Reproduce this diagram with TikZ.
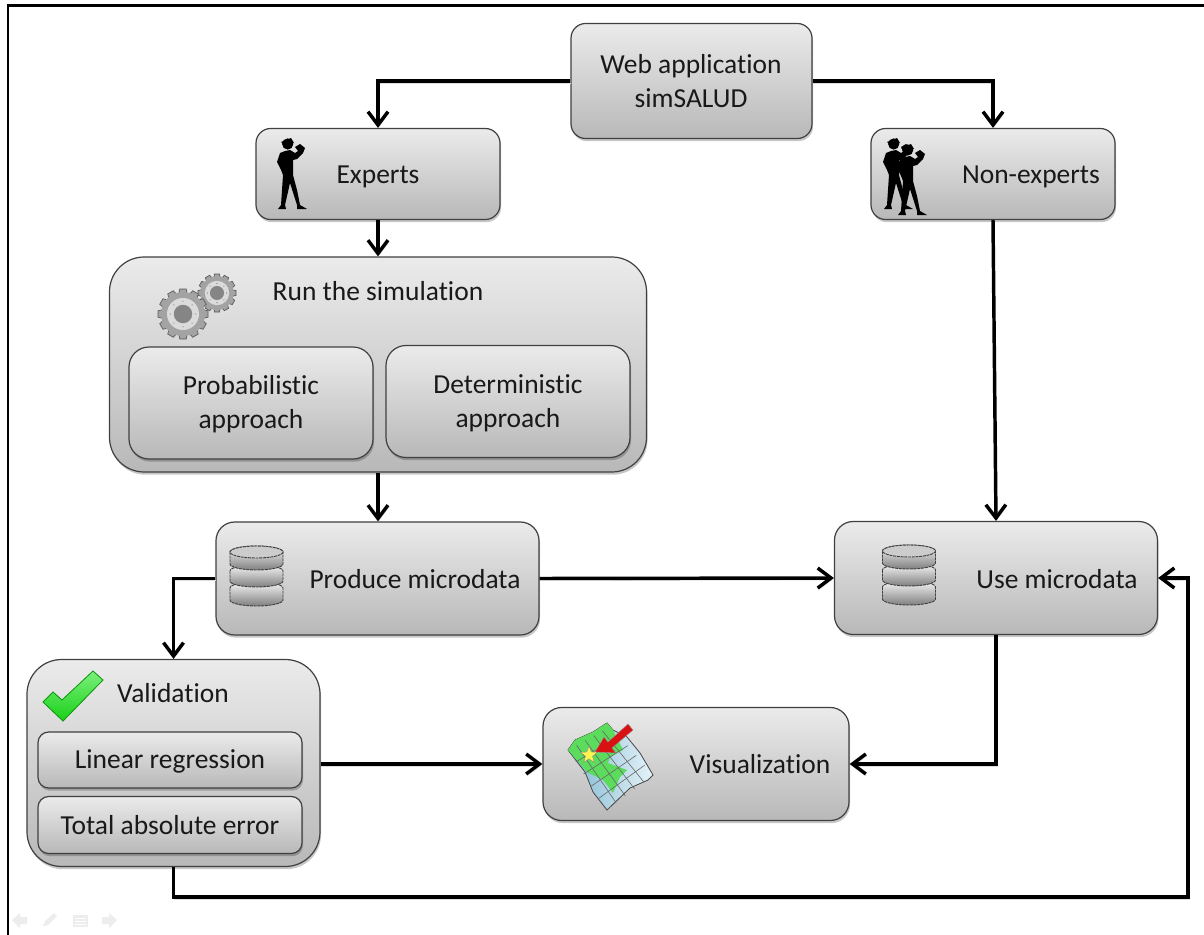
\documentclass[tikz,border=0pt]{standalone}
\usepackage{fontspec}
\setmainfont[RawFeature={-liga}]{Carlito}
\usetikzlibrary{shadows,arrows.meta,calc}
\definecolor{boxtop}{HTML}{EBEBEB}
\definecolor{boxbot}{HTML}{B8B8B8}
\definecolor{chk}{HTML}{18D018}
\definecolor{chklight}{HTML}{7CF07C}
\definecolor{chkdark}{HTML}{0C9A0C}
\definecolor{mapgreen}{HTML}{5CDC5C}
\definecolor{mapblue}{HTML}{7FB8D2}
\definecolor{mappale}{HTML}{E6F3F8}
\definecolor{maparrow}{HTML}{D81212}
\definecolor{navgrey}{HTML}{EDEDED}
\tikzset{
  flowbox/.style={draw=black!75,line width=0.9pt,top color=boxtop,bottom color=boxbot,inner sep=0pt,
    drop shadow={shadow xshift=0.8pt,shadow yshift=-2pt,fill=black,opacity=0.22}},
  lbl/.style={font=\fontsize{20.6pt}{25.5pt}\selectfont,align=center,text=black!90,inner sep=0pt},
  shade line/.style={preaction={draw=black!13,transform canvas={shift={(0.6pt,-1.6pt)}}}},
  flow/.style={line width=2.6pt,draw=black,line join=miter,shade line,-{Straight Barb[length=10pt,width=15pt,line width=2.6pt]}},
  frameline/.style={line width=2.2pt,draw=black},
  dbdisk/.style={draw=black!75,dash pattern=on 2.2pt off 0.6pt,line width=0.7pt},
}
\newcommand{\person}[2]{% x, y of the feet
  \begin{scope}[shift={(#1,#2)}]
   \fill[black] (-3.3,-65) circle (5.6);
   \fill[black] (-10,-67) -- (0,-71) -- (3,-66) -- (-8,-65) -- cycle;
   \fill[black] (-1,-59) -- (4,-56) -- (7,-58) -- (4,-62) -- (9,-65) -- (14,-61) -- (12,-56) -- (6,-50) -- (2,-49)
     -- (2,-34) -- (6,-19) -- (9,-4) -- (16,0) -- (6,0) -- (6,-4) -- (-1,-26) -- (-6,-4) -- (-5,0) -- (-13,0) -- (-10,-4)
     -- (-8,-34) -- (-10,-39) -- (-14,-47) -- (-11,-56) -- (-6,-58) -- cycle;
  \end{scope}}
\newcommand{\gearicon}[3]{% x, y, radius
  \begin{scope}[shift={(#1,#2)}]
   \foreach \a in {0,30,...,330}{\filldraw[fill=black!36,draw=black!65,line width=0.5pt,rotate=\a] (-0.17*#3,0.8*#3) -- (-0.13*#3,1*#3) -- (0.13*#3,1*#3) -- (0.17*#3,0.8*#3) -- cycle;}
   \filldraw[fill=black!36,draw=none] (0,0) circle (0.88*#3);
   \fill[black!14] (0,0) circle (0.64*#3);
   \foreach \a in {0,45,...,315}{\fill[black!45,rotate=\a] (0.51*#3,0) circle (0.7);}
   \fill[black!48] (0,0) circle (0.37*#3);
  \end{scope}}
\newcommand{\dbicon}[2]{% centre x, y of the centre of the top ellipse
  \begin{scope}[shift={(#1,#2)}]
   \foreach \o/\h in {36/12,19/10,0/12}{
     \path[dbdisk,top color=black!4,bottom color=black!50]
       (-26.5,\o) -- (-26.5,\o+\h) arc[start angle=180,end angle=0,x radius=26.5,y radius=6] -- (26.5,\o) arc[start angle=0,end angle=-180,x radius=26.5,y radius=6] -- cycle;
   }
   \path[dbdisk,fill=black!20] (0,0) ellipse[x radius=26.5,y radius=6];
  \end{scope}}
\begin{document}
\begin{tikzpicture}[x=0.75pt,y=-0.75pt]
\useasboundingbox (0,0) rectangle (1204,935);
\fill[white] (0,0) rectangle (1204,935);
% outer frame
\coordinate (fa) at (8,935);
\coordinate (fb) at (8,5.5);
\coordinate (fc) at (1204,5.5);
\draw[frameline] (fa) -- (fb) -- (fc);
% boxes
\node[flowbox,rounded corners=11pt,minimum width=180.75pt,minimum height=86.25pt] (web) at (691.5,81) {};
\node[flowbox,rounded corners=11pt,minimum width=183pt,minimum height=68.25pt] (exp) at (378,174) {};
\node[flowbox,rounded corners=11pt,minimum width=183pt,minimum height=68.25pt] (non) at (993,174) {};
\node[flowbox,rounded corners=26pt,minimum width=402.75pt,minimum height=161.25pt] (run) at (378,364.5) {};
\node[flowbox,rounded corners=15pt,minimum width=183pt,minimum height=84pt] (prob) at (251,403) {};
\node[flowbox,rounded corners=15pt,minimum width=183pt,minimum height=84pt] (det) at (508,401.5) {};
\node[flowbox,rounded corners=14pt,minimum width=242.25pt,minimum height=84.75pt] (prod) at (377.5,578.5) {};
\node[flowbox,rounded corners=14pt,minimum width=242.25pt,minimum height=84.75pt] (use) at (996,578) {};
\node[flowbox,rounded corners=26pt,minimum width=219.75pt,minimum height=155.25pt] (val) at (173.5,763) {};
\node[flowbox,rounded corners=8pt,minimum width=198pt,minimum height=42pt] (lin) at (170,760) {};
\node[flowbox,rounded corners=8pt,minimum width=198pt,minimum height=42.75pt] (tot) at (170,825) {};
\node[flowbox,rounded corners=14pt,minimum width=229.5pt,minimum height=84.75pt] (vis) at (696,764) {};
% labels
\node[lbl] (tweb) at (691,81) {Web application\\simSALUD};
\node[lbl] (texp) at (378,177) {Experts};
\node[lbl] (tnon) at (1031,177) {Non-experts};
\node[lbl] (trun) at (378,291) {Run the simulation};
\node[lbl] (tprob) at (251,404.5) {Probabilistic\\approach};
\node[lbl] (tdet) at (508,403.5) {Deterministic\\approach};
\node[lbl] (tprod) at (415,579) {Produce microdata};
\node[lbl] (tuse) at (1057,579) {Use microdata};
\node[lbl] (tval) at (173,693) {Validation};
\node[lbl] (tlin) at (170,761.5) {Linear regression};
\node[lbl] (ttot) at (170,825) {Total absolute error};
\node[lbl] (tvis) at (760,764) {Visualization};
% connectors
\draw[flow] (web.west) -| (exp.north);
\draw[flow] (web.east) -| (non.north);
\draw[flow] (exp.south) -- (exp.south |- run.north);
\draw[flow] (run.south) -- (run.south |- prod.north);
\draw[flow] (non.south) -- (use.north);
\draw[flow] (prod.east) -- (use.west);
\draw[flow] (prod.west) -| (val.north);
\draw[flow] (val.east |- vis.west) -- (vis.west);
\draw[flow] (use.south) |- (vis.east);
\coordinate (rr) at (1188,897);
\coordinate (rm) at (1188,578);
\draw[flow] (val.south) |- (rr) -- (rm) -- (use.east);
% people
\person{291}{209}
\person{897}{209}
\person{911}{215}
% gears
\gearicon{217}{293}{19}
\gearicon{183}{314}{25}
% databases
\dbicon{256.5}{552}
\dbicon{909}{551}
% check mark
\filldraw[draw=chkdark,line width=0.6pt,top color=chklight,bottom color=chk,shading angle=0]
  (43,702) -- (53,692) -- (62,700) -- (93,671) -- (103,680) -- (63,721) -- cycle;
% map
\coordinate (ma) at (568,750);
\coordinate (mb) at (611,726);
\coordinate (mc) at (653,775);
\coordinate (md) at (607,810);
\filldraw[draw=black!70,line width=0.6pt,left color=mapblue,right color=mappale]
  (568,750) -- (575,740) -- (593,732) -- (607,723) -- (613,730) -- (627,737) -- (640,753) -- (653,775) -- (648,780) -- (630,788) -- (607,810) -- (593,792) -- (585,772) -- cycle;
\fill[mapgreen]
  (568,750) -- (575,740) -- (593,732) -- (607,723) -- (613,730) -- (623,750) -- (610,757) -- (608,763) -- (627,770) -- (620,777) -- (613,793) -- (603,780) -- (587,772) -- cycle;
\foreach \t in {0.2,0.4,0.6,0.8}{
  \draw[black!60,line width=0.45pt] ($(ma)!\t!(mb)$) -- ($(md)!\t!(mc)$);
  \draw[black!60,line width=0.45pt] ($(ma)!\t!(md)$) -- ($(mb)!\t!(mc)$);
}
\filldraw[draw=black!40,line width=0.3pt,fill=maparrow]
  (595,752) -- (604,737) -- (608,742) -- (628,724) -- (633,730) -- (612,748) -- (616,753) -- cycle;
\filldraw[draw=black!45,line width=0.3pt,fill=yellow!70!white]
  (589,746) -- (591.2,752) -- (597.5,752.3) -- (592.5,756.2) -- (594.3,762.4) -- (589,758.8) -- (583.7,762.4) -- (585.5,756.2) -- (580.5,752.3) -- (586.8,752) -- cycle;
% navigation marks
\fill[navgrey] (12,920) -- (20,913) -- (20,917) -- (27,917) -- (27,924) -- (20,924) -- (20,928) -- cycle;
\fill[navgrey] (43,926) -- (45,921) -- (54,913) -- (57,916) -- (48,925) -- cycle;
\fill[navgrey] (73,915) rectangle (88,927);
\foreach \q in {918,921,924}{\draw[white,line width=0.6pt] (75,\q) -- (86,\q);}
\fill[navgrey] (117,920) -- (109,913) -- (109,917) -- (102,917) -- (102,924) -- (109,924) -- (109,928) -- cycle;
\end{tikzpicture}
\end{document}
